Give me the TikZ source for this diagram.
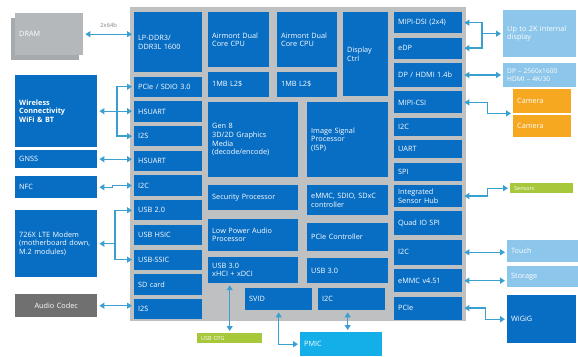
\documentclass[tikz,border=0pt]{standalone}
\usepackage{fontspec}
\setmainfont{Open Sans}
\usetikzlibrary{arrows.meta,positioning}

\definecolor{chipblue}{RGB}{8,110,196}
\definecolor{chipgray}{RGB}{190,192,194}
\definecolor{extblue}{RGB}{140,198,234}
\definecolor{linkblue}{RGB}{58,160,208}
\definecolor{camorange}{RGB}{246,168,32}
\definecolor{sensgreen}{RGB}{166,200,58}
\definecolor{pmiccyan}{RGB}{20,174,232}
\definecolor{codecgray}{RGB}{112,112,112}
\definecolor{dramgray}{RGB}{180,184,187}
\definecolor{dramback}{RGB}{166,170,173}

\begin{document}
\begin{tikzpicture}[
  x=1pt, y=-1pt,
  >={Triangle[length=5pt,width=6pt]},
  node distance=4pt,
  every node/.style={font=\fontsize{7.3}{8.6}\selectfont,text=white,
                     inner xsep=4pt,inner ysep=1pt,align=left},
  blk/.style={fill=chipblue,anchor=north west},
  ext/.style={fill=extblue,anchor=north west},
  lbl/.style={text=gray,font=\fontsize{5.8}{6.5}\selectfont,above=5pt},
  link/.style={<->,draw=linkblue,line width=1.4pt,shorten >=2pt,shorten <=2pt},
  tap/.style={->,draw=linkblue,line width=1.4pt,shorten >=2pt}
]
  \useasboundingbox (0,0) rectangle (578,356);
  \fill[chipgray] (130,7) rectangle (466,321);

  % left column of the SoC
  \node[blk,text width=60pt,minimum height=60pt] (lpddr) at (134,12) {LP-DDR3/\\DDR3L 1600};
  \node[blk,text width=60pt,minimum height=20.3pt,below=of lpddr] (pcie) {PCIe / SDIO 3.0};
  \node[blk,text width=60pt,minimum height=20.3pt,below=of pcie] (hsuarta) {HSUART};
  \node[blk,text width=60pt,minimum height=20.3pt,below=of hsuarta] (i2sa) {I2S};
  \node[blk,text width=60pt,minimum height=20.3pt,below=of i2sa] (hsuartb) {HSUART};
  \node[blk,text width=60pt,minimum height=20.3pt,below=of hsuartb] (i2cl) {I2C};
  \node[blk,text width=60pt,minimum height=20.3pt,below=of i2cl] (usbtwo) {USB 2.0};
  \node[blk,text width=60pt,minimum height=20.3pt,below=of usbtwo] (hsic) {USB HSIC};
  \node[blk,text width=60pt,minimum height=20.3pt,below=of hsic] (ssic) {USB-SSIC};
  \node[blk,text width=60pt,minimum height=20.3pt,below=of ssic] (sdcard) {SD card};
  \node[blk,text width=60pt,minimum height=20.3pt,below=of sdcard] (i2sb) {I2S};

  % middle of the SoC
  \node[blk,text width=53pt,minimum height=55pt] (cpua) at (208,12) {Airmont Dual\\Core CPU};
  \node[blk,text width=53pt,minimum height=25pt,below=of cpua] (ltwoa) {1MB L2\$};
  \node[blk,text width=52pt,minimum height=55pt] (cpub) at (277,12) {Airmont Dual\\Core CPU};
  \node[blk,text width=52pt,minimum height=25pt,below=of cpub] (ltwob) {1MB L2\$};
  \node[blk,text width=37pt,minimum height=84pt] (disp) at (343,12) {Display\\Ctrl};
  \node[blk,text width=82pt,minimum height=75pt] (gfx) at (208,102) {Gen 8\\3D/2D Graphics\\Media\\(decode/encode)};
  \node[blk,text width=73pt,minimum height=75pt] (isp) at (307,102) {Image Signal\\Processor\\(ISP)};
  \node[blk,text width=82pt,minimum height=25pt] (sec) at (208,185) {Security Processor};
  \node[blk,text width=82pt,minimum height=32pt,below=8pt of sec] (lpaudio) {Low Power Audio\\Processor};
  \node[blk,text width=82pt,minimum height=26pt,below=6pt of lpaudio] (usbthreea) {USB 3.0\\xHCI + xDCI};
  \node[blk,text width=73pt,minimum height=30pt] (emmcc) at (307,185) {eMMC, SDIO, SDxC\\controller};
  \node[blk,text width=73pt,minimum height=28pt,below=7pt of emmcc] (pciec) {PCIe Controller};
  \node[blk,text width=73pt,minimum height=25pt,below=7pt of pciec] (usbthreeb) {USB 3.0};
  \node[blk,text width=59pt,minimum height=22pt] (svid) at (245,288) {SVID};
  \node[blk,text width=59pt,minimum height=22pt] (i2cm) at (318,288) {I2C};

  % right column of the SoC
  \node[blk,text width=60pt,minimum height=21pt] (dsi) at (394,12) {MIPI-DSI (2x4)};
  \node[blk,text width=60pt,minimum height=21pt,below=of dsi] (edp) {eDP};
  \node[blk,text width=60pt,minimum height=24pt,below=of edp] (dphdmi) {DP / HDMI 1.4b};
  \node[blk,text width=60pt,minimum height=22pt,below=of dphdmi] (csi) {MIPI-CSI};
  \node[blk,text width=60pt,minimum height=18pt,below=of csi] (i2cra) {I2C};
  \node[blk,text width=60pt,minimum height=18pt,below=of i2cra] (uart) {UART};
  \node[blk,text width=60pt,minimum height=18pt,below=of uart] (spi) {SPI};
  \node[blk,text width=60pt,minimum height=22pt,below=of spi] (ish) {Integrated\\Sensor Hub};
  \node[blk,text width=60pt,minimum height=24pt,below=of ish] (qspi) {Quad IO SPI};
  \node[blk,text width=60pt,minimum height=25pt,below=of qspi] (i2crb) {I2C};
  \node[blk,text width=60pt,minimum height=23pt,below=of i2crb] (emmcr) {eMMC v4.51};
  \node[blk,text width=60pt,minimum height=23pt,below=of emmcr] (pcier) {PCIe};

  % devices on the left
  \fill[dramback] (11,18) rectangle (79,60);
  \node[blk,fill=dramgray,text width=60pt,minimum height=42pt] (dram) at (15,13) {DRAM};
  \node[blk,text width=74pt,minimum height=72pt,font=\fontsize{7.3}{8.6}\selectfont\bfseries] (wifi) at (15,75) {Wireless\\Connectivity\\WiFi \& BT};
  \node[blk,text width=74pt,minimum height=18pt] (gnss) at (15,150) {GNSS};
  \node[blk,text width=74pt,minimum height=22pt] (nfc) at (15,176) {NFC};
  \node[blk,text width=74pt,minimum height=67pt] (lte) at (15,210) {726X LTE Modem\\(motherboard down,\\M.2 modules)};
  \node[blk,fill=codecgray,text width=74pt,minimum height=23pt,align=center] (codec) at (15,294) {Audio Codec};

  % devices on the right and below
  \node[ext,text width=65pt,minimum height=47pt] (intdisp) at (503,10) {Up to 2K internal\\display};
  \node[ext,text width=65pt,minimum height=24pt,inner ysep=0pt,font=\fontsize{6.6}{7.2}\selectfont] (dpext) at (503,63) {DP -- 2560x1600\\HDMI -- 4K/30};
  \node[ext,fill=camorange,text width=50pt,minimum height=24pt] (cama) at (513,89) {Camera};
  \node[ext,fill=camorange,text width=50pt,minimum height=22pt] (camb) at (513,115) {Camera};
  \node[ext,fill=sensgreen,text width=55pt,minimum height=10pt,inner ysep=0pt,
        font=\fontsize{5.5}{6}\selectfont] (sensors) at (510,183) {Sensors};
  \node[ext,text width=63pt,minimum height=22pt] (touch) at (507,240) {Touch};
  \node[ext,text width=63pt,minimum height=21pt] (storage) at (507,266) {Storage};
  \node[blk,text width=61pt,minimum height=48pt] (wigig) at (507,295) {WiGiG};
  \node[ext,fill=sensgreen,text width=57pt,minimum height=10pt,inner ysep=0pt,
        font=\fontsize{5.5}{6}\selectfont] (usbotg) at (197,333) {USB OTG};
  \node[ext,fill=pmiccyan,text width=74pt,minimum height=24pt] (pmic) at (300,332) {PMIC};

  \coordinate (wbus) at (117,0);
  \coordinate (lbus) at (115,0);
  \coordinate (dbus) at (482,0);

  % links on the left
  \draw[link] (dram.east) -- node[lbl] {2x64b} (dram.east -| lpddr.west);
  \draw[link] (wifi.east) -- (wifi.east -| hsuarta.west);
  \draw[link] (pcie.west) -- (wbus |- pcie.west) -- (wbus |- i2sa.west) -- (i2sa.west);
  \draw[link] (gnss.east) -- (gnss.east -| hsuartb.west);
  \draw[link] (nfc.east) -- ++(15,0) |- (i2cl.west);
  \draw[link] (usbtwo.west) -- (lbus |- usbtwo.west) -- (lbus |- ssic.west) -- (ssic.west);
  \draw[tap] (lbus |- lte.east) -- (lte.east);
  \draw[link] (codec.east) -- (codec.east -| i2sb.west);

  % links below
  \draw[link] (usbotg.north) -- (usbotg.north |- usbthreea.south);
  \draw[link] (svid.south) |- (pmic.west);
  \draw[link] ([xshift=-4pt]i2cm.south) -- ([xshift=-4pt]i2cm.south |- pmic.north);

  % links on the right
  \draw[link] (dsi.east) -- (dbus |- dsi.east) -- (dbus |- edp.east) -- (edp.east);
  \draw[tap] (dbus |- intdisp.west) -- (intdisp.west);
  \draw[link] (dphdmi.east) -- (dphdmi.east -| dpext.west);
  \draw[link] (csi.east) -- ++(25,0) |- (cama.south west);
  \draw[link] (ish.east) -- ++(25,0) |- (sensors.west);
  \draw[link] (i2crb.east) -- (i2crb.east -| touch.west);
  \draw[link] (emmcr.east) -- (emmcr.east -| storage.west);
  \draw[link] (pcier.east) -- ++(23,0) |- (wigig.west);
\end{tikzpicture}
\end{document}
